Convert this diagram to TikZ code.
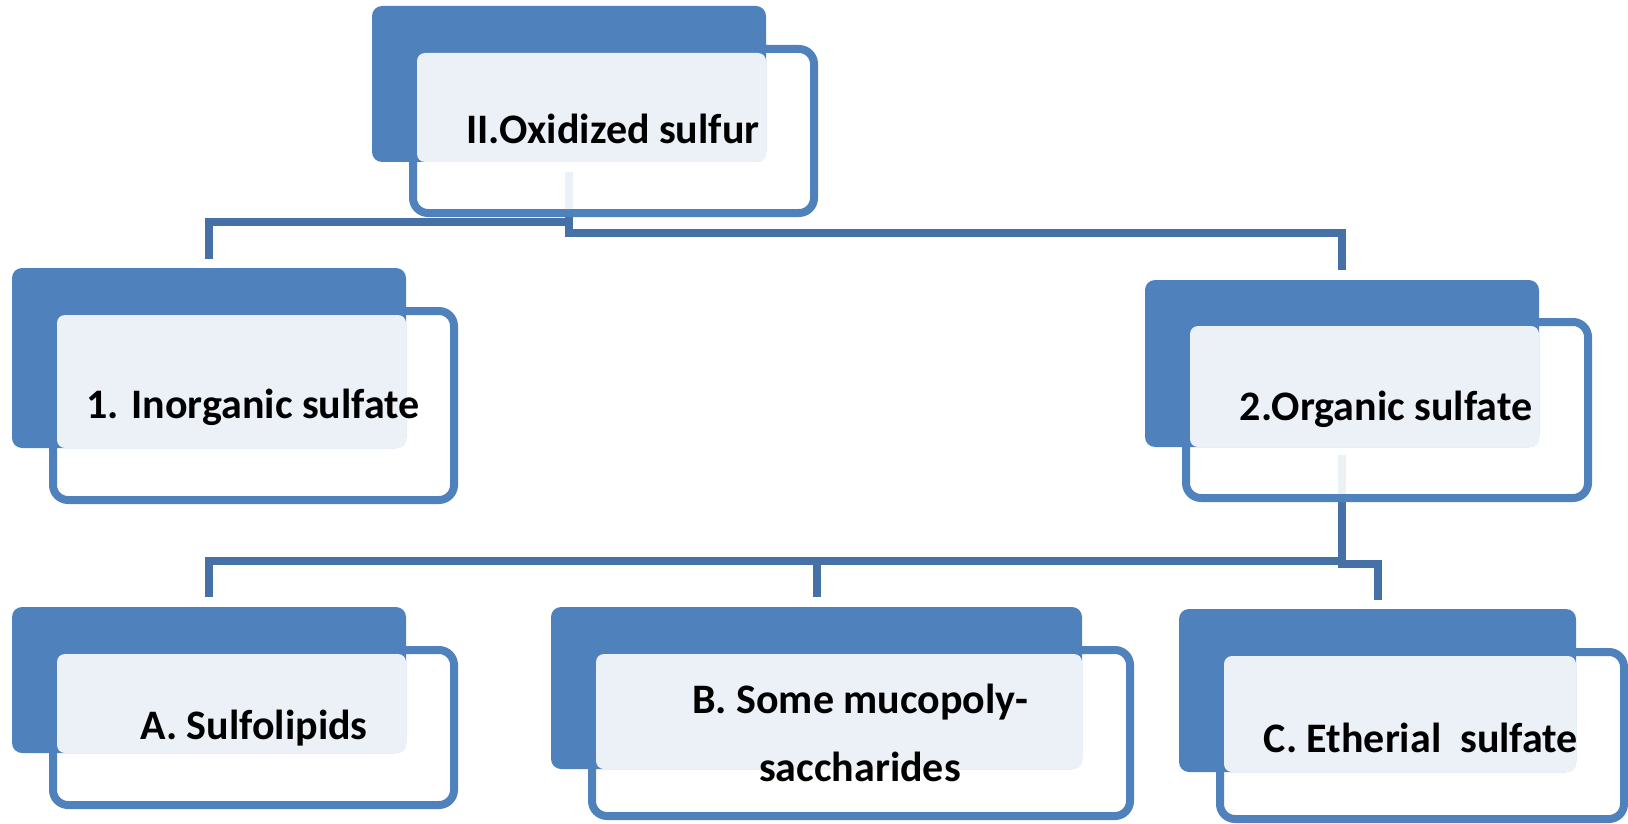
\documentclass[tikz,border=0pt]{standalone}
\usepackage{fontspec}
\setmainfont{Carlito}
\usetikzlibrary{calc}
\definecolor{boxblue}{HTML}{4F81BD}
\definecolor{lineblue}{HTML}{4671A6}
\definecolor{paleblue}{HTML}{ECF1F8}
\pgfdeclarelayer{background}
\pgfsetlayers{background,main}
\begin{document}
\begin{tikzpicture}[x=0.5pt,y=-0.5pt,
    back/.style={rectangle, rounded corners=5pt, fill=boxblue, outer sep=0pt, inner sep=0pt},
    front/.style={rectangle, rounded corners=7.5pt, draw=boxblue, line width=4pt, fill=white, fill opacity=0.9, outer sep=0pt, inner sep=0pt},
    conn/.style={draw=lineblue, line width=4pt},
    txt/.style={anchor=base, font=\bfseries\fontsize{21}{34}\selectfont, inner sep=0pt, align=center}]
    \useasboundingbox (0,0) rectangle (1628,824);

    \node[front, minimum width=200.5pt, minimum height=82pt] (oxf) at (613.5,131) {};
    \node[back, minimum width=197pt, minimum height=78pt] (ox) at (569,84) {};
    \fill[paleblue, rounded corners=4pt] ($(oxf.north west)+(4,4)$) rectangle (ox.south east);
    \node[txt] (oxt) at (613,144) {II.Oxidized sulfur};

    \node[front, minimum width=200.5pt, minimum height=94.5pt] (inorgf) at (253.5,405.5) {};
    \node[back, minimum width=197pt, minimum height=90pt] (inorg) at (209,358) {};
    \fill[paleblue, rounded corners=4pt] ($(inorgf.north west)+(4,4)$) rectangle (inorg.south east);
    \node[txt] (inorgt) at (253,418) {1. Inorganic sulfate};

    \node[front, minimum width=201pt, minimum height=88pt] (orgf) at (1387,410) {};
    \node[back, minimum width=197pt, minimum height=83.5pt] (org) at (1342,363.5) {};
    \fill[paleblue, rounded corners=4pt] ($(orgf.north west)+(4,4)$) rectangle (org.south east);
    \node[txt] (orgt) at (1386,420) {2.Organic sulfate};

    \node[front, minimum width=200.5pt, minimum height=77.5pt] (sulfof) at (253.5,727.5) {};
    \node[back, minimum width=197pt, minimum height=73pt] (sulfo) at (209,680) {};
    \fill[paleblue, rounded corners=4pt] ($(sulfof.north west)+(4,4)$) rectangle (sulfo.south east);
    \node[txt] (sulfot) at (254,739) {A. Sulfolipids};

    \node[front, minimum width=269pt, minimum height=83pt] (mucof) at (861,733) {};
    \node[back, minimum width=265.5pt, minimum height=81pt] (muco) at (816.5,688) {};
    \fill[paleblue, rounded corners=4pt] ($(mucof.north west)+(4,4)$) rectangle (muco.south east);
    \node[txt] (mucot) at (860,781) {B. Some mucopoly-\\saccharides};

    \node[front, minimum width=202pt, minimum height=83.5pt] (etherf) at (1422,735.5) {};
    \node[back, minimum width=198.5pt, minimum height=81.5pt] (ether) at (1377.5,690.5) {};
    \fill[paleblue, rounded corners=4pt] ($(etherf.north west)+(4,4)$) rectangle (ether.south east);
    \node[txt] (ethert) at (1421,752) {C. Etherial\ \ sulfate};

    \begin{pgfonlayer}{background}
    \coordinate (ox-bus) at ($(ox.south)+(0,60)$);
    \draw[conn] ($(ox.south)+(0,10)$) -- (ox-bus) -| ($(inorg.north)+(0,-9)$);
    \draw[conn] (ox-bus) -- ++(0,11) -| ($(org.north)+(0,-10)$);
    \coordinate (org-bus) at ($(org.south)+(0,114)$);
    \draw[conn] ($(org.south)+(0,8)$) -- (org-bus) -| ($(sulfo.north)+(0,-10)$);
    \draw[conn] ($(muco.north)+(0,-10)$) -- (muco.north |- org-bus);
    \draw[conn] (org-bus) -- ++(0,3) -| ($(ether.north)+(0,-9)$);
    \end{pgfonlayer}
\end{tikzpicture}
\end{document}
